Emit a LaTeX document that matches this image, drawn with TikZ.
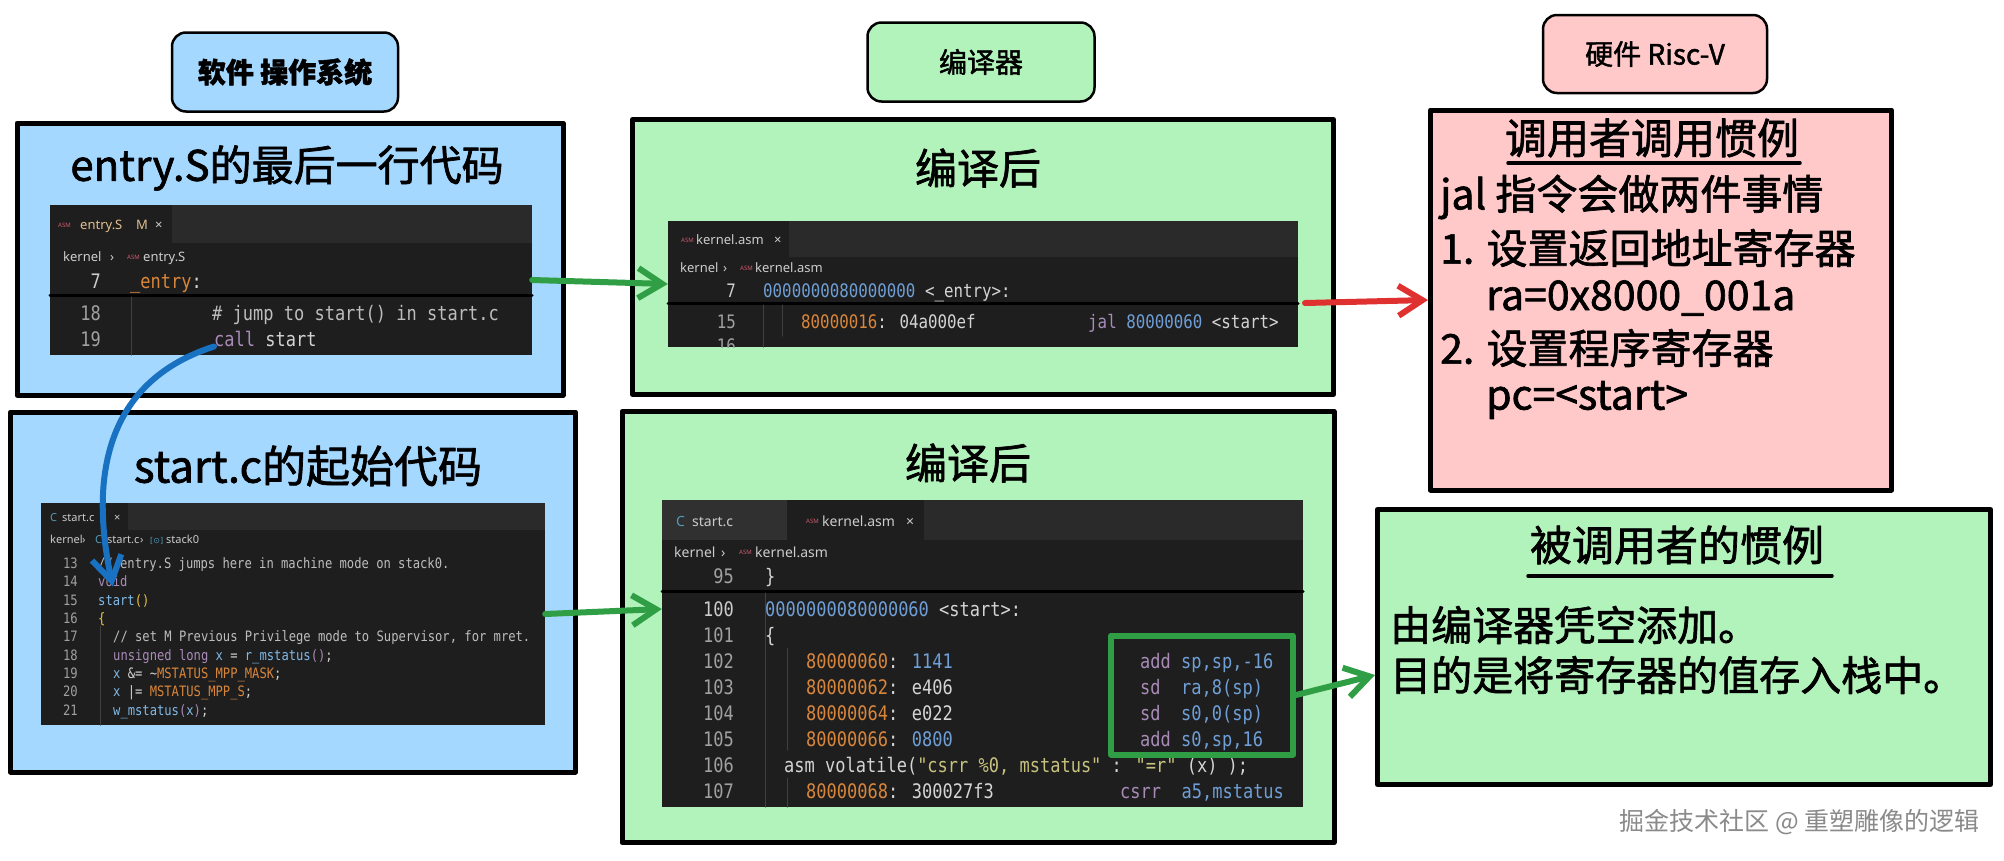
\documentclass[tikz,border=0pt]{standalone}
\usepackage{fontspec}
\setmainfont{Noto Sans CJK SC}
\newfontfamily\handfont{Noto Sans CJK SC}[FakeBold=1.6]
\newfontfamily\codefont{DejaVu Sans Mono}[FakeStretch=0.85]
\newfontfamily\uifont{Noto Sans}
\newfontfamily\symfont{DejaVu Sans}
\usetikzlibrary{arrows.meta}

\definecolor{boxblue}{HTML}{A5D8FF}
\definecolor{boxgreen}{HTML}{B2F2BB}
\definecolor{boxpink}{HTML}{FFC9C9}
\definecolor{edbg}{HTML}{1E1E1E}
\definecolor{tabbar}{HTML}{2A2A2A}
\definecolor{tabidle}{HTML}{303030}
\definecolor{uitext}{HTML}{CCCCCC}
\definecolor{lnum}{HTML}{A0A0A0}
\definecolor{lnhi}{HTML}{CCCCCC}
\definecolor{ctext}{HTML}{D4D4D4}
\definecolor{corange}{HTML}{D9863B}
\definecolor{cblue}{HTML}{6F9FD6}
\definecolor{cpurple}{HTML}{A98BB8}
\definecolor{cteal}{HTML}{80B9E6}
\definecolor{cyellow}{HTML}{E8C340}
\definecolor{cstr}{HTML}{C8C27E}
\definecolor{ccom}{HTML}{BDBDBD}
\definecolor{asmred}{HTML}{D05A6E}
\definecolor{modfile}{HTML}{E2C08D}
\definecolor{cicon}{HTML}{519ABA}
\definecolor{garrow}{HTML}{2F9E44}
\definecolor{rarrow}{HTML}{E03131}
\definecolor{barrow}{HTML}{1971C2}
\definecolor{wmgray}{HTML}{8A8A8A}

\newcommand\hdrfont{\handfont\fontsize{28}{30}\selectfont}
\newcommand\ttlfont{\handfont\fontsize{42}{46}\selectfont}
\newcommand\txtfont{\handfont\fontsize{41}{46}\selectfont}

\tikzset{
  hdr/.style={draw=black, line width=2.5pt, rounded corners=14pt, inner sep=0},
  bigbox/.style={draw=black, line width=5pt, inner sep=0},
  panel/.style={fill=edbg, inner sep=0},
  ttl/.style={inner sep=0, font=\ttlfont},
  body/.style={inner sep=0, anchor=west, font=\txtfont},
  cdA/.style={inner sep=0, text depth=0pt, text=ctext, font=\codefont\fontsize{20}{20}\selectfont, text height=14.6pt},
  cdB/.style={inner sep=0, text depth=0pt, text=ctext, font=\codefont\fontsize{18.6}{20}\selectfont, text height=13.6pt},
  cdC/.style={inner sep=0, text depth=0pt, text=ctext, font=\codefont\fontsize{14.3}{16}\selectfont, text height=10.4pt},
  ln/.style={anchor=east, text=lnum},
  lc/.style={anchor=west},
  uiA/.style={inner sep=0, anchor=west, text depth=0pt, text height=9pt, text=uitext, font=\uifont\fontsize{13}{14}\selectfont},
  uiB/.style={inner sep=0, anchor=west, text depth=0pt, text height=10pt, text=uitext, font=\uifont\fontsize{14}{15}\selectfont},
  uiC/.style={inner sep=0, anchor=west, text depth=0pt, text height=8pt, text=uitext, font=\uifont\fontsize{11}{12}\selectfont},
  asmicon/.style={inner sep=0, anchor=west, text=asmred, font=\uifont\fontsize{6}{6}\selectfont},
  sepline/.style={line width=3pt, black},
  guideline/.style={line width=1pt, color=black!75!white},
  uline/.style={line width=3.5pt},
  hlbox/.style={draw=garrow, line width=6pt, inner sep=0},
  arrowline/.style={line width=6pt, line cap=round, -{Straight Barb[length=24pt,width=30pt]}},
}

\begin{document}
\begin{tikzpicture}[x=1pt, y=-1pt, line cap=round, line join=round]
\fill[white] (0,0) rectangle (2004,860);
\useasboundingbox (0,0) rectangle (2004,860);

% headers
\node[hdr, fill=boxblue, minimum width=226, minimum height=79] (hdrOS) at (285,72) {\hdrfont\bfseries 软件 操作系统};
\node[hdr, fill=boxgreen, minimum width=227, minimum height=79] (hdrCC) at (981,62) {\hdrfont 编译器};
\node[hdr, fill=boxpink, minimum width=224, minimum height=78] (hdrHW) at (1655,54) {\hdrfont 硬件 Risc-V};

% big boxes
\node[bigbox, fill=boxblue, minimum width=546, minimum height=272] (boxEnt) at (290,259) {};
\node[bigbox, fill=boxblue, minimum width=565, minimum height=360] (boxSt) at (293,592) {};
\node[bigbox, fill=boxgreen, minimum width=701, minimum height=275] (boxAsmA) at (983,257) {};
\node[bigbox, fill=boxgreen, minimum width=712, minimum height=431] (boxAsmB) at (978,627) {};
\node[bigbox, fill=boxpink, minimum width=461, minimum height=380] (boxCaller) at (1661,300) {};
\node[bigbox, fill=boxgreen, minimum width=613, minimum height=275] (boxCallee) at (1684,647) {};

% titles
\node[ttl] (tEnt) at (287,168) {entry.S的最后一行代码};
\node[ttl, font=\handfont\fontsize{44}{48}\selectfont] (tSt) at (308,466) {start.c的起始代码};
\node[ttl] (tAsmA) at (978,168) {编译后};
\node[ttl] (tAsmB) at (968,463) {编译后};

% entry.S panel
\node[panel, minimum width=482, minimum height=150] (pEnt) at (291,280) {};
\fill[tabbar] (50,205) rectangle (532,243);
\fill[edbg] (50,205) rectangle (172,243);
\node[asmicon] (eTabIco) at (58,225) {ASM};
\node[uiA, text=modfile] (eTabTxt) at (80,225) {entry.S};
\node[uiA, text=modfile] (eTabM) at (136,225) {M};
\node[uiA] (eTabX) at (155,225) {×};
\node[uiA] (eCr1) at (63,257) {kernel};
\node[uiA] (eCr2) at (110,257) {›};
\node[asmicon] (eCr3) at (127,257) {ASM};
\node[uiA] (eCr4) at (143,257) {entry.S};
\node[cdA, ln, text=lnhi] (eN7) at (101,281) {7};
\node[cdA, lc] (eL7) at (130,281) {{\color{corange}\_entry}:};
\draw[sepline] (50,295) -- (532,295);
\draw[guideline] (131,297) -- (131,355);
\node[cdA, ln] (eN18) at (101,313) {18};
\node[cdA, lc, text=ccom] (eL18) at (212,313) {\# jump to start() in start.c};
\node[cdA, ln] (eN19) at (101,339) {19};
\node[cdA, lc] (eL19) at (214,339) {{\color{cpurple}call} start};

% kernel.asm panel (entry)
\node[panel, minimum width=630, minimum height=126] (pAsmA) at (983,284) {};
\fill[tabbar] (668,221) rectangle (1298,257);
\fill[edbg] (668,221) rectangle (789,257);
\node[asmicon] (aTabIco) at (681,240) {ASM};
\node[uiA] (aTabTxt) at (696,240) {kernel.asm};
\node[uiA] (aTabX) at (774,240) {×};
\node[uiA] (aCr1) at (680,268) {kernel};
\node[uiA] (aCr2) at (723,268) {›};
\node[asmicon] (aCr3) at (740,268) {ASM};
\node[uiA] (aCr4) at (755,268) {kernel.asm};
\node[cdB, ln, text=lnhi] (aN7) at (736,291) {7};
\node[cdB, lc] (aL7) at (763,291) {{\color{cblue}0000000080000000} <\_entry>:};
\draw[sepline] (668,303) -- (1298,303);
\draw[guideline] (763,305) -- (763,347);
\draw[guideline] (782,305) -- (782,336);
\node[cdB, ln] (aN15) at (736,322) {15};
\node[cdB, lc] (aL15) at (801,322) {{\color{corange}80000016}: 04a000ef};
\node[cdB, lc] (aL15r) at (1088,322) {{\color{cpurple}jal} {\color{cblue}80000060} <start>};
\begin{scope}
\clip (668,330) rectangle (1298,347);
\node[cdB, ln] (aN16) at (736,346) {16};
\end{scope}

% start.c panel
\node[panel, minimum width=504, minimum height=222] (pSt) at (293,614) {};
\fill[tabbar] (41,503) rectangle (545,530);
\fill[edbg] (41,503) rectangle (128,530);
\node[uiC, text=cicon] (sTabIco) at (50,517) {\bfseries C};
\node[uiC] (sTabTxt) at (62,517) {start.c};
\node[uiC] (sTabX) at (114,517) {×};
\node[uiC] (sCr1) at (50,539) {kernel};
\node[uiC] (sCr2) at (82,539) {›};
\node[uiC, text=cicon] (sCr3) at (95,539) {\bfseries C};
\node[uiC] (sCr4) at (107,539) {start.c};
\node[uiC] (sCr5) at (140,539) {›};
\node[uiC, text=cicon] (sCr6) at (150,539) {\symfont\fontsize{8}{8}\selectfont[⊙]};
\node[uiC] (sCr7) at (166,539) {stack0};
\draw[guideline] (100,626) -- (100,725);
\node[cdC, ln] (sN13) at (78,563) {13};
\node[cdC, lc, text=ccom] (sL13) at (98,563) {// entry.S jumps here in machine mode on stack0.};
\node[cdC, ln] (sN14) at (78,581) {14};
\node[cdC, lc, text=cpurple] (sL14) at (98,581) {void};
\node[cdC, ln] (sN15) at (78,600) {15};
\node[cdC, lc] (sL15) at (98,600) {{\color{cteal}start}{\color{cyellow}()}};
\node[cdC, ln] (sN16) at (78,618) {16};
\node[cdC, lc, text=cyellow] (sL16) at (98,618) {\{};
\node[cdC, ln] (sN17) at (78,636) {17};
\node[cdC, lc, text=ccom] (sL17) at (113,636) {// set M Previous Privilege mode to Supervisor, for mret.};
\node[cdC, ln] (sN18) at (78,655) {18};
\node[cdC, lc] (sL18) at (113,655) {{\color{cpurple}unsigned long} {\color{cteal}x} = {\color{cteal}r\_mstatus}{\color{cpurple}()};};
\node[cdC, ln] (sN19) at (78,673) {19};
\node[cdC, lc] (sL19) at (113,673) {{\color{cteal}x} \&= \textasciitilde{\color{corange}MSTATUS\_MPP\_MASK};};
\node[cdC, ln] (sN20) at (78,691) {20};
\node[cdC, lc] (sL20) at (113,691) {{\color{cteal}x} |= {\color{corange}MSTATUS\_MPP\_S};};
\node[cdC, ln] (sN21) at (78,710) {21};
\node[cdC, lc] (sL21) at (113,710) {{\color{cteal}w\_mstatus}{\color{cpurple}(}{\color{cteal}x}{\color{cpurple})};};

% kernel.asm panel (start)
\node[panel, minimum width=641, minimum height=307] (pAsmB) at (982.5,653.5) {};
\fill[tabbar] (662,500) rectangle (1303,540);
\fill[tabidle] (662,500) rectangle (787,540);
\fill[edbg] (787,500) rectangle (924,540);
\node[uiB, text=cicon] (bTabIco) at (676,521) {\bfseries C};
\node[uiB] (bTab1) at (692,521) {start.c};
\node[asmicon] (bTab2Ico) at (806,521) {ASM};
\node[uiB] (bTab2) at (822,521) {kernel.asm};
\node[uiB] (bTabX) at (906,521) {×};
\node[uiB] (bCr1) at (674,552) {kernel};
\node[uiB] (bCr2) at (721,552) {›};
\node[asmicon] (bCr3) at (739,552) {ASM};
\node[uiB] (bCr4) at (755,552) {kernel.asm};
\node[cdA, ln] (bN95) at (734,576) {95};
\node[cdA, lc] (bL95) at (765,576) {\}};
\draw[sepline] (662,591) -- (1303,591);
\draw[guideline] (765,593) -- (765,807);
\draw[guideline] (787,648) -- (787,750);
\draw[guideline] (787,778) -- (787,807);
\node[cdA, ln, text=lnhi] (bN100) at (734,609) {100};
\node[cdA, lc] (bL100) at (765,609) {{\color{cblue}0000000080000060} <start>:};
\node[cdA, ln] (bN101) at (734,635) {101};
\node[cdA, lc] (bL101) at (765,635) {\{};
\node[cdA, ln] (bN102) at (734,661) {102};
\node[cdA, lc] (bL102) at (806,661) {{\color{corange}80000060}: {\color{cblue}1141}};
\node[cdA, lc] (bR102) at (1140,661) {{\color{cpurple}add} {\color{cblue}sp,sp,-16}};
\node[cdA, ln] (bN103) at (734,687) {103};
\node[cdA, lc] (bL103) at (806,687) {{\color{corange}80000062}: e406};
\node[cdA, lc] (bR103) at (1140,687) {{\color{cpurple}sd}\ \ {\color{cblue}ra,8(sp)}};
\node[cdA, ln] (bN104) at (734,713) {104};
\node[cdA, lc] (bL104) at (806,713) {{\color{corange}80000064}: e022};
\node[cdA, lc] (bR104) at (1140,713) {{\color{cpurple}sd}\ \ {\color{cblue}s0,0(sp)}};
\node[cdA, ln] (bN105) at (734,739) {105};
\node[cdA, lc] (bL105) at (806,739) {{\color{corange}80000066}: {\color{cblue}0800}};
\node[cdA, lc] (bR105) at (1140,739) {{\color{cpurple}add} {\color{cblue}s0,sp,16}};
\node[cdA, ln] (bN106) at (734,765) {106};
\node[cdA, lc] (bL106) at (784,765) {asm volatile({\color{cstr}"csrr \%0, mstatus"} : {\color{cstr}"=r"} (x) );};
\node[cdA, ln] (bN107) at (734,791) {107};
\node[cdA, lc] (bL107) at (806,791) {{\color{corange}80000068}: 300027f3};
\node[cdA, lc] (bR107) at (1120,791) {{\color{cpurple}csrr}\ \ {\color{cblue}a5,mstatus}};
\node[hlbox, minimum width=182, minimum height=119] (hl) at (1202,695) {};

% caller side
\node[ttl] (tCaller) at (1652,138) {调用者调用惯例};
\draw[uline] (1508,163) -- (1800,163);
\node[body] (cA1) at (1440,197) {jal 指令会做两件事情};
\node[body] (cA2) at (1440,248) {1. 设置返回地址寄存器};
\node[body] (cA3) at (1486,298) {ra=0x8000\_001a};
\node[body] (cA4) at (1440,348) {2. 设置程序寄存器};
\node[body] (cA5) at (1486,400) {pc=<start>};

% callee side
\node[ttl] (tCallee) at (1677,545) {被调用者的惯例};
\draw[uline] (1528,576) -- (1832,576);
\node[body] (cB1) at (1390,625) {由编译器凭空添加。};
\node[body] (cB2) at (1390,675) {目的是将寄存器的值存入栈中。};

\node[anchor=east, inner sep=0, text=wmgray, font=\fontsize{25}{27}\selectfont] (wm) at (1980,822) {掘金技术社区 @ 重塑雕像的逻辑};

% arrows
\coordinate (jalOut) at (1305,303);
\draw[arrowline, garrow] (pEnt.east) -- (pAsmA.west);
\draw[arrowline, rarrow] (jalOut) -- (boxCaller.west);
\draw[arrowline, garrow] (pSt.east) -- (pAsmB.west |- bN100);
\draw[arrowline, garrow] (hl.east) -- (boxCallee.west |- cB2);
\draw[arrowline, barrow] (eL19.south west) .. controls (110,380) and (88,470) .. (sL14.south);
\end{tikzpicture}
\end{document}
